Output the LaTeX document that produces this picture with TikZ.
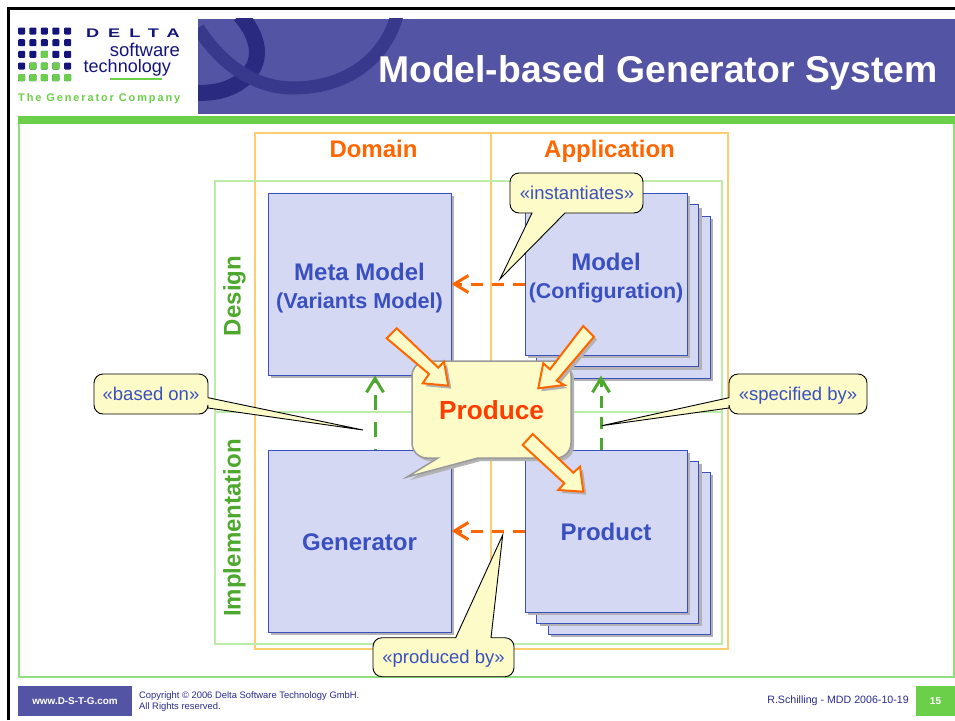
\documentclass[tikz,border=0pt]{standalone}
\usepackage{fontspec}
\setmainfont{Liberation Sans}
\newfontfamily\deltafont[FakeStretch=1.45,LetterSpace=72]{Liberation Sans}
\newfontfamily\companyfont[LetterSpace=17]{Liberation Sans}
\usetikzlibrary{shadows,arrows.meta}
\definecolor{navy}{HTML}{5454A4}
\definecolor{swirla}{HTML}{38388C}
\definecolor{swirlb}{HTML}{2A2A80}
\definecolor{logoblue}{HTML}{14147A}
\definecolor{barblue}{HTML}{2A2A90}
\definecolor{limeg}{HTML}{6CCF4A}
\definecolor{paleg}{HTML}{BDEBA8}
\definecolor{frameg}{HTML}{90E080}
\definecolor{paleo}{HTML}{FFCC70}
\definecolor{boxfill}{HTML}{D4D8F2}
\definecolor{boxline}{HTML}{3A4FC0}
\definecolor{tipfill}{HTML}{FDFCC8}
\definecolor{orangeh}{HTML}{FF6600}
\definecolor{designg}{HTML}{4EA82E}
\tikzset{
  boxshadow/.style={drop shadow={shadow xshift=3pt,shadow yshift=-3pt,opacity=1,fill=black!30}},
  bluebox/.style={draw=boxline,line width=1pt,fill=boxfill,boxshadow,minimum width=162pt,minimum height=162pt,inner sep=0pt},
  bigbox/.style={bluebox,minimum width=183pt,minimum height=182pt},
  boxtext/.style={text=boxline,align=center,inner sep=0pt,font=\fontsize{24}{28}\selectfont\bfseries},
  tipbox/.style={draw=black,line width=0.9pt,fill=tipfill},
  tiptext/.style={text=boxline,anchor=base,inner sep=0pt,font=\fontsize{18.5}{22}\selectfont},
  blockarrow/.style={draw=orangeh,line width=2pt,fill=tipfill,boxshadow,line join=miter},
  head/.style={text=orangeh,anchor=base,inner sep=0pt,font=\fontsize{24}{28}\selectfont\bfseries},
  side/.style={text=designg,anchor=base,rotate=90,inner sep=0pt,font=\fontsize{24}{28}\selectfont\bfseries},
  orangedash/.style={draw=orangeh,line width=3pt,dash pattern=on 12pt off 9pt,-{Straight Barb[length=14pt,width=17pt,line width=3pt]}},
  greendash/.style={draw=designg,line width=3pt,dash pattern=on 12pt off 9pt,-{Straight Barb[length=14pt,width=17pt,line width=3pt]}}
}
\begin{document}
\begin{tikzpicture}[x=1pt,y=-1pt]
\useasboundingbox (0,0) rectangle (955,720);
\fill[white] (0,0) rectangle (955,720);

% slide furniture
\draw[black,line width=3pt] (8.5,720)--(8.5,8.5)--(955,8.5);
\fill[navy] (198,18.5) rectangle (955,114);
\begin{scope}
\clip (198,18.5) rectangle (955,114);
\draw[swirlb,line width=16pt] (240,15) .. controls (262,40) and (265,68) .. (235,85) .. controls (222,92) and (210,93) .. (195,93);
\draw[swirla,line width=13pt] (198,28) .. controls (225,70) and (260,88) .. (293,88) .. controls (345,88) and (385,60) .. (397,15);
\end{scope}
\draw[frameg,line width=1.2pt] (19,123) rectangle (954,677);
\fill[limeg] (18,116) rectangle (955,123.5);

% logo
\foreach \col/\px in {1/21.7,2/32.9,3/44.3,4/55.8,5/67.7}
  \foreach \row/\py in {1/31,2/42.7,3/54.3,4/66,5/77.7}
    \fill[logoblue,rounded corners=1pt] (\px-3.5,\py-3.5) rectangle (\px+3.5,\py+3.5);
\foreach \px/\py in {44.3/54.3,32.9/66,44.3/66,55.8/66,21.7/77.7,32.9/77.7,44.3/77.7,55.8/77.7,67.7/77.7}
  \fill[limeg,rounded corners=1pt] (\px-3.5,\py-3.5) rectangle (\px+3.5,\py+3.5);
\node[anchor=base east,inner sep=0pt,text=logoblue] (delta) at (180,37.3) {\fontsize{12.5}{14}\deltafont\bfseries DELTA};
\node[anchor=base east,inner sep=0pt,text=logoblue] (software) at (180,56.5) {\fontsize{18.5}{20}\selectfont software};
\node[anchor=base east,inner sep=0pt,text=logoblue] (technology) at (171,72.5) {\fontsize{18}{20}\selectfont technology};
\draw[limeg,line width=2pt] (110,79)--(162,79);
\node[anchor=base west,inner sep=0pt,text=limeg] (company) at (18,101) {\fontsize{11}{12}\companyfont\bfseries The Generator Company};

\node[anchor=base east,inner sep=0pt,text=white,font=\fontsize{37.3}{42}\selectfont\bfseries] (title) at (938,82) {Model-based Generator System};

% footer
\node[fill=navy,text=white,minimum width=114pt,minimum height=30pt,inner sep=0pt,font=\fontsize{9.9}{12}\selectfont\bfseries] (www) at (75,701) {www.D-S-T-G.com};
\node[anchor=west,inner sep=0pt,text=barblue,align=left,font=\fontsize{9.4}{11}\selectfont] (copyright) at (139,701.5) {Copyright © 2006 Delta Software Technology GmbH.\\All Rights reserved.};
\node[anchor=east,inner sep=0pt,text=barblue,font=\fontsize{10.65}{12}\selectfont] (author) at (909,701) {R.Schilling - MDD 2006-10-19};
\node[fill=limeg,text=white,minimum width=39pt,minimum height=30pt,inner sep=0pt,font=\fontsize{10}{12}\selectfont\bfseries] (page) at (935.5,701) {15};

% grid
\draw[paleo,line width=2pt] (255,133) rectangle (728,649);
\draw[paleo,line width=2pt] (491,133)--(491,649);
\draw[paleg,line width=2pt] (215,181) rectangle (722,644);
\draw[paleg,line width=2pt] (215,412)--(722,412);
\node[head] (domain) at (373.5,157) {Domain};
\node[head] (application) at (609.5,157) {Application};
\node[side] (design) at (240.7,296) {Design};
\node[side] (implementation) at (240.7,528) {Implementation};

% boxes
\node[bigbox] (metamodel) at (359.5,284) {};
\node[bigbox] (generator) at (359.5,541) {};
\node[bluebox] (modelc) at (629,297) {};
\node[bluebox] (modelb) at (617.5,285.5) {};
\node[bluebox] (model) at (606,274) {};
\node[bluebox] (productc) at (629,553) {};
\node[bluebox] (productb) at (617.5,542) {};
\node[bluebox] (product) at (606,531) {};
\node[boxtext,yshift=-4pt] (metatext) at (metamodel) {Meta Model\\{\fontsize{21.6}{26}\selectfont (Variants Model)}};
\node[boxtext,yshift=-1pt] (generatortext) at (generator) {Generator};
\node[boxtext,yshift=-4pt] (modeltext) at (model) {Model\\{\fontsize{21.4}{26}\selectfont (Configuration)}};
\node[boxtext,yshift=-1pt] (producttext) at (product) {Product};

\coordinate (upl) at (375,412);
\coordinate (upr) at (601,412);
\draw[orangedash] (model.west |- metamodel.east)--(metamodel.east);
\draw[orangedash] (product.west)--(generator.east |- product.west);
\draw[greendash,dash pattern=on 15pt off 12pt,dash phase=14pt] (upl |- generator.north)--(upl |- metamodel.south);
\draw[greendash] (upr |- product.north)--(upr |- metamodel.south);

% produce
\draw[draw=black!40,line width=1.5pt,fill=tipfill,boxshadow] (407,477)--(438,458) [rounded corners=15pt] --(412,458)--(412,361)--(571,361)--(571,458) [sharp corners] --(478,458)--cycle;
\node[text=orangeh!60!red,inner sep=0pt,font=\fontsize{26.2}{30}\selectfont\bfseries] (produce) at (491.5,410) {Produce};
\draw[blockarrow] (396.7,328.3)--(438.3,367.7)--(444,361.7)--(448.3,385.7)--(422.7,383.3)--(429,374)--(386.7,338.3)--cycle;
\draw[blockarrow] (583.3,326)--(594,336.7)--(556.7,380.7)--(564.3,385)--(538.3,388.3)--(543.3,363.3)--(550,369.3)--cycle;
\draw[blockarrow] (532.7,434)--(522.7,445)--(564.3,483.3)--(558.3,490)--(583.3,491.7)--(580,466.7)--(573.3,472.7)--cycle;

% labels
\draw[tipbox] (500,279)--(532,213) [rounded corners=9pt] --(510,213)--(510,173)--(643,173)--(643,213) [sharp corners] --(565,213)--cycle;
\node[tiptext] (instantiates) at (577,199.3) {«instantiates»};
\draw[tipbox] (363,430)--(208,397.7) [rounded corners=9pt] --(208,374)--(94,374)--(94,414)--(208,414) [sharp corners] --(208,408)--cycle;
\node[tiptext] (basedon) at (151,400) {«based on»};
\draw[tipbox] (601.7,425.7)--(729,408) [rounded corners=9pt] --(729,414)--(867,414)--(867,374)--(729,374) [sharp corners] --(729,397.7)--cycle;
\node[tiptext] (specifiedby) at (798,400) {«specified by»};
\draw[tipbox] (502.7,535)--(491,637.7) [rounded corners=9pt] --(514,637.7)--(514,676.7)--(373,676.7)--(373,637.7) [sharp corners] --(455.7,637.7)--cycle;
\node[tiptext] (producedby) at (443.5,663) {«produced by»};
\end{tikzpicture}
\end{document}
